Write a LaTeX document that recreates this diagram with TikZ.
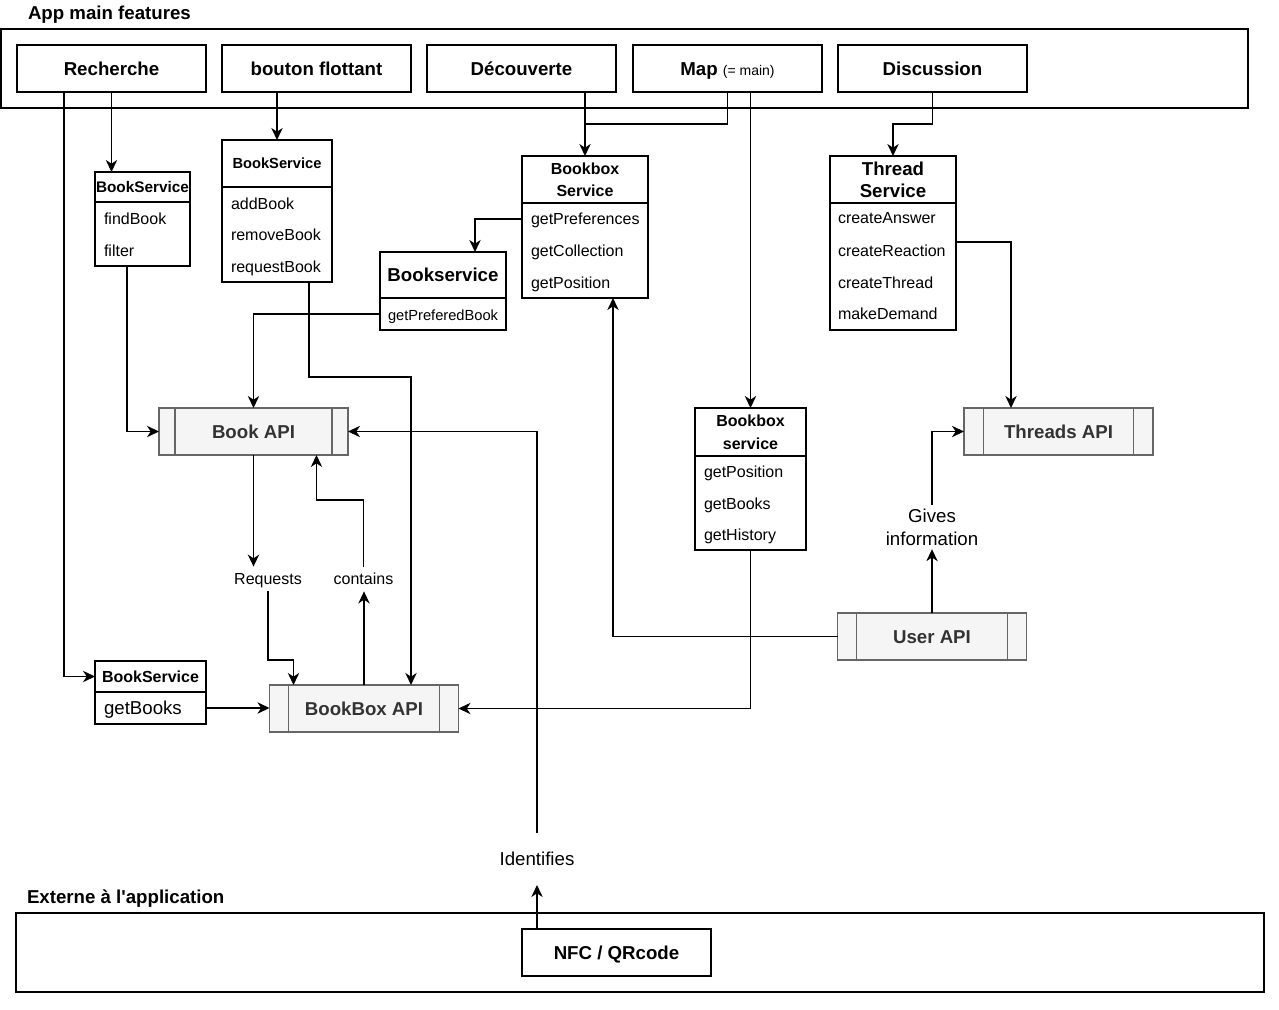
\documentclass[tikz,border=0pt]{standalone}
\usepackage{fontspec}
\setmainfont{Liberation Sans}[Ligatures=TeXOff]
\usetikzlibrary{arrows.meta,calc}
\definecolor{apigray}{HTML}{666666}
\definecolor{apifill}{HTML}{F5F5F5}
\definecolor{apitext}{HTML}{333333}
\begin{document}
\begin{tikzpicture}[x=0.75pt,y=-0.75pt,
  every node/.style={inner sep=0pt,outer sep=0pt},
  lw/.style={line width=1.1pt},
  arr/.style={lw,-{Stealth[length=9pt,width=8.5pt,inset=2.8pt]}},
  frame/.style={draw,lw},
  feat/.style={draw,lw,fill=white,minimum width=141.75pt,minimum height=35.25pt,font=\fontsize{14}{16}\selectfont\bfseries,text height=10pt,text depth=0pt},
  api/.style={draw=apigray,line width=1.1pt,fill=apifill,text=apitext,minimum width=141.75pt,minimum height=35.25pt,font=\fontsize{14}{16}\selectfont\bfseries,text height=10pt,text depth=0pt},
  bar/.style={draw=apigray,line width=1.1pt},
  head/.style={draw,lw,align=center},
  body/.style={draw,lw},
  row/.style={anchor=west,font=\fontsize{12}{14}\selectfont,text height=8.6pt,text depth=0pt},
  lbl/.style={font=\fontsize{12}{14}\selectfont,inner xsep=2pt,inner ysep=5pt,text height=8.6pt,text depth=0pt},
  title/.style={anchor=west,font=\fontsize{14}{16}\selectfont\bfseries,text height=10pt,text depth=0pt},
]
\useasboundingbox (0,0) rectangle (1279,1010);

% top frame
\node[frame,minimum width=935.25pt,minimum height=59.25pt] (appf) at (624.5,68.5) {};
\node[title] (apptitle) at (28,13) {App main features};
\node[feat] (rech) at (111.5,68.5) {Recherche};
\node[feat] (bout) at (316.5,68.5) {bouton flottant};
\node[feat] (dec) at (521.5,68.5) {Découverte};
\node[feat] (map) at (727.5,68.5) {Map\ {\fontsize{10.5}{12}\selectfont\mdseries (= main)}};
\node[feat] (disc) at (932.5,68.5) {Discussion};

% BookService 1
\node[head,minimum width=71.25pt,minimum height=22.5pt,font=\fontsize{11.5}{13}\selectfont\bfseries,text height=8.3pt,text depth=0pt] (bs1h) at (142.5,187) {BookService};
\node[body,minimum width=71.25pt,minimum height=48pt] (bs1b) at (142.5,234) {};
\node[row] (bs1r1) at (104,219) {findBook};
\node[row] (bs1r2) at (104,251) {filter};

% BookService 2
\node[head,minimum width=82.5pt,minimum height=35.25pt,font=\fontsize{11}{13}\selectfont\bfseries,text height=7.9pt,text depth=0pt] (bs2h) at (277,163.5) {BookService};
\node[body,minimum width=82.5pt,minimum height=71.25pt] (bs2b) at (277,234.5) {};
\node[row] (bs2r1) at (231,204) {addBook};
\node[row] (bs2r2) at (231,235) {removeBook};
\node[row] (bs2r3) at (231,267) {requestBook};

% Bookbox Service
\node[head,minimum width=94.5pt,minimum height=35.25pt,font=\fontsize{12}{16.5}\selectfont\bfseries] (bbsh) at (585,179.5) {Bookbox\\Service};
\node[body,minimum width=94.5pt,minimum height=71.25pt] (bbsb) at (585,250.5) {};
\node[row] (bbsr1) at (531,219) {getPreferences};
\node[row] (bbsr2) at (531,251) {getCollection};
\node[row] (bbsr3) at (531,283) {getPosition};

% Bookservice (prefered)
\node[head,minimum width=94.5pt,minimum height=34.5pt,font=\fontsize{14}{16}\selectfont\bfseries,text height=10pt,text depth=0pt] (bsph) at (443,275) {Bookservice};
\node[body,minimum width=94.5pt,minimum height=24pt] (bspb) at (443,314) {};
\node[row,font=\fontsize{11}{13}\selectfont,text height=7.9pt] (bspr1) at (388,315) {getPreferedBook};

% Thread Service
\node[head,minimum width=94.5pt,minimum height=35.25pt,font=\fontsize{14}{16.5}\selectfont\bfseries] (tsh) at (893,179.5) {Thread\\Service};
\node[body,minimum width=94.5pt,minimum height=95.25pt] (tsb) at (893,266.5) {};
\node[row] (tsr1) at (838,218) {createAnswer};
\node[row] (tsr2) at (838,251) {createReaction};
\node[row] (tsr3) at (838,283) {createThread};
\node[row] (tsr4) at (838,314) {makeDemand};

% Bookbox service (lower)
\node[head,minimum width=83.25pt,minimum height=36pt,font=\fontsize{12}{17}\selectfont\bfseries] (bblh) at (750.5,432) {Bookbox\\service};
\node[body,minimum width=83.25pt,minimum height=70.5pt] (bblb) at (750.5,503) {};
\node[row] (bblr1) at (704,472) {getPosition};
\node[row] (bblr2) at (704,504) {getBooks};
\node[row] (bblr3) at (704,535) {getHistory};

% BookService lower-left
\node[head,minimum width=83.25pt,minimum height=23.25pt,font=\fontsize{12}{14}\selectfont\bfseries,text height=8.6pt,text depth=0pt] (bslh) at (150.5,676.5) {BookService};
\node[body,minimum width=83.25pt,minimum height=24pt] (bslb) at (150.5,708) {};
\node[row,font=\fontsize{14}{16}\selectfont,text height=10pt] (bslr1) at (104,708) {getBooks};

% APIs
\node[api] (bookapi) at (253.5,431.5) {Book API};
\draw[bar] ($(bookapi.north west)+(16,0)$) -- ($(bookapi.south west)+(16,0)$);
\draw[bar] ($(bookapi.north east)+(-16,0)$) -- ($(bookapi.south east)+(-16,0)$);
\node[api] (thrapi) at (1058.5,431.5) {Threads API};
\draw[bar] ($(thrapi.north west)+(19.5,0)$) -- ($(thrapi.south west)+(19.5,0)$);
\draw[bar] ($(thrapi.north east)+(-19.5,0)$) -- ($(thrapi.south east)+(-19.5,0)$);
\node[api] (bbapi) at (364,708.5) {BookBox API};
\draw[bar] ($(bbapi.north west)+(19,0)$) -- ($(bbapi.south west)+(19,0)$);
\draw[bar] ($(bbapi.north east)+(-19,0)$) -- ($(bbapi.south east)+(-19,0)$);
\node[api] (userapi) at (932,636.5) {User API};
\draw[bar] ($(userapi.north west)+(19,0)$) -- ($(userapi.south west)+(19,0)$);
\draw[bar] ($(userapi.north east)+(-19,0)$) -- ($(userapi.south east)+(-19,0)$);

% bottom frame
\node[title] (exttitle) at (27,897) {Externe à l'application};
\node[frame,minimum width=936pt,minimum height=59.25pt] (extf) at (640,952.5) {};
\node[feat] (nfc) at (616.5,952.5) {NFC / QRcode};

% labels
\node[lbl] (req) at (268,579) {Requests};
\node[lbl] (cont) at (363.5,579) {contains};
\node[font=\fontsize{14}{17}\selectfont,align=center,inner xsep=2pt,inner ysep=3pt] (gives) at (932,527) {Gives\\information};
\node[font=\fontsize{14}{17}\selectfont,text height=10pt,text depth=0pt,minimum height=39pt] (iden) at (537,859) {Identifies};

% connectors
\draw[arr] (rech.south) -- (rech.south |- bs1h.north);
\draw[arr] ($(rech.south)+(-47.5,0)$) |- (bslh.west);
\draw[arr] ($(bs1b.south)+(-15.5,0)$) |- (bookapi.west);
\draw[arr] (bs2h.north |- bout.south) -- (bs2h.north);
\coordinate (k5) at ($(bbapi.north)+(47,-308)$);
\draw[arr] ($(bs2b.south)+(32,0)$) |- (k5) -- (k5 |- bbapi.north);
\draw[arr] (bspb.west) -| (bookapi.north);
\draw[arr] (bbsb.west |- bbsr1.west) -| ($(bsph.north)+(32,0)$);
\draw[arr] (bbsh.north |- dec.south) -- (bbsh.north);
\draw[lw] (map.south) |- ($(bbsh.north)+(0,-32)$);
\draw[arr] (bblh.north |- map.south) -- (bblh.north);
\draw[arr] (disc.south) |- ($(tsh.north)+(0,-32)$) -- (tsh.north);
\draw[arr] ($(tsb.east)+(0,-24.5)$) -| ($(thrapi.north)+(-47.5,0)$);
\draw[arr] (bookapi.south) -- (bookapi.south |- req.north);
\coordinate (q1) at ($(bbapi.north west)+(24,-25)$);
\draw[arr] (req.south) |- (q1) -- (q1 |- bbapi.north);
\draw[arr] (bbapi.north) -- (bbapi.north |- cont.south);
\coordinate (c1) at ($(bookapi.south)+(63,45)$);
\draw[arr] (cont.north) |- (c1) -- (c1 |- bookapi.south);
\draw[arr] (iden.south |- nfc.north) -- (iden.south);
\draw[arr] (iden.north) |- (bookapi.east);
\draw[arr] (bblb.south) |- (bbapi.east);
\draw[arr] (bslb.east) -- (bslb.east -| bbapi.west);
\draw[arr] (userapi.west) -| ($(bbsb.south)+(28,0)$);
\draw[arr] (userapi.north) -- (gives.south);
\draw[arr] (gives.north) |- (thrapi.west);
\end{tikzpicture}
\end{document}
